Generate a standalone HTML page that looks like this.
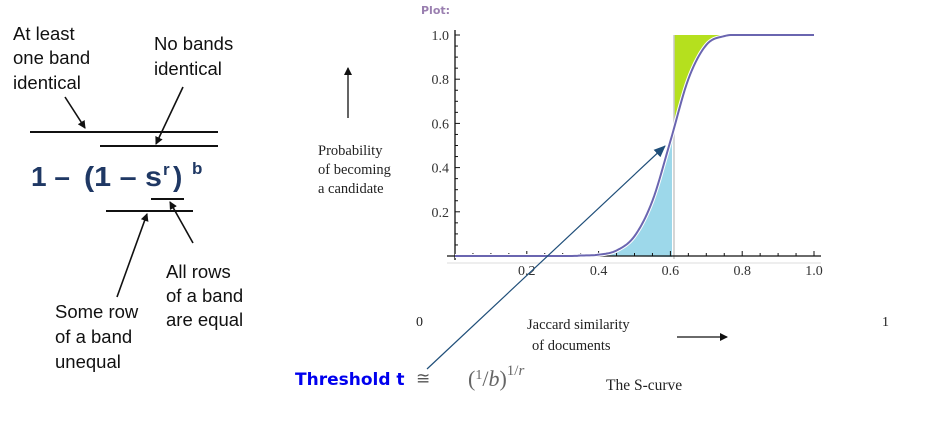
<!DOCTYPE html>
<html><head><meta charset="utf-8"><style>
html,body{margin:0;padding:0;background:#fff;}
svg{display:block;}
.cal{font-family:"Liberation Sans",sans-serif;font-size:18.5px;fill:#111;}
.ser{font-family:"Liberation Serif",serif;fill:#222;}
</style></head><body>
<svg width="945" height="433" viewBox="0 0 945 433">
<defs>
<marker id="ah" markerWidth="8" markerHeight="8" refX="7" refY="4" orient="auto" markerUnits="userSpaceOnUse"><path d="M0,0 L8,4 L0,8 z" fill="#111"/></marker>
<marker id="ahb" markerWidth="12" markerHeight="10" refX="11" refY="5" orient="auto" markerUnits="userSpaceOnUse"><path d="M0,0 L12,5 L0,10 z" fill="#1f4e79"/></marker>
</defs>
<g>
<text class="cal" x="13" y="40">At least</text>
<text class="cal" x="13" y="64">one band</text>
<text class="cal" x="13" y="89">identical</text>
<text class="cal" x="154" y="50">No bands</text>
<text class="cal" x="154" y="75">identical</text>
<line x1="30" y1="132" x2="218" y2="132" stroke="#111" stroke-width="2"/>
<line x1="100" y1="146" x2="218" y2="146" stroke="#111" stroke-width="2"/>
<g font-family="'Liberation Sans',sans-serif" font-weight="bold" fill="#1f3864">
<text x="31" y="186" font-size="28">1 –</text>
<text x="84" y="186" font-size="28" textLength="78" lengthAdjust="spacingAndGlyphs">(1 – s</text>
<text x="163" y="175" font-size="17">r</text>
<text x="173" y="186" font-size="28">)</text>
<text x="192" y="174" font-size="17">b</text>
</g>
<line x1="151" y1="199" x2="184" y2="199" stroke="#111" stroke-width="2"/>
<line x1="106" y1="211" x2="193" y2="211" stroke="#111" stroke-width="2"/>
<line x1="65" y1="97" x2="85" y2="128" stroke="#111" stroke-width="1.6" marker-end="url(#ah)"/>
<line x1="183" y1="87" x2="156" y2="144" stroke="#111" stroke-width="1.6" marker-end="url(#ah)"/>
<line x1="117" y1="297" x2="147" y2="214" stroke="#111" stroke-width="1.6" marker-end="url(#ah)"/>
<line x1="193" y1="243" x2="170" y2="202" stroke="#111" stroke-width="1.6" marker-end="url(#ah)"/>
<text class="cal" x="166" y="278">All rows</text>
<text class="cal" x="166" y="302">of a band</text>
<text class="cal" x="166" y="326">are equal</text>
<text class="cal" x="55" y="318">Some row</text>
<text class="cal" x="55" y="343">of a band</text>
<text class="cal" x="55" y="368">unequal</text>
</g>
<text x="421" y="14" font-family="'DejaVu Sans',sans-serif" font-size="11" fill="#9a7fb0" font-weight="bold">Plot:</text>
<g>
<text class="ser" font-size="14.5" x="318" y="155">Probability</text>
<text class="ser" font-size="14.5" x="318" y="174">of becoming</text>
<text class="ser" font-size="14.5" x="318" y="193">a candidate</text>
</g>
<line x1="348" y1="118" x2="348" y2="68" stroke="#111" stroke-width="1.3" marker-end="url(#ah)"/>
<text class="ser" x="416" y="326" font-size="14">0</text>
<text class="ser" x="882" y="326" font-size="14">1</text>
<text class="ser" x="527" y="329" font-size="14.5">Jaccard similarity</text>
<text class="ser" x="532" y="350" font-size="14.5">of documents</text>
<line x1="677" y1="337" x2="727" y2="337" stroke="#111" stroke-width="1.3" marker-end="url(#ah)"/>
<text x="295" y="385" font-family="'DejaVu Sans','Liberation Sans',sans-serif" font-weight="bold" font-size="17" fill="#0000ee">Threshold  t</text>
<text x="416" y="384" font-family="'DejaVu Sans',sans-serif" font-size="17" fill="#555">≅</text>
<text x="468" y="386" font-family="'Liberation Serif',serif" font-size="22" fill="#666">(<tspan font-size="14" dy="-7">1</tspan><tspan dy="7">/</tspan><tspan font-style="italic">b</tspan>)<tspan font-size="15" dy="-11">1/</tspan><tspan font-size="15" font-style="italic">r</tspan></text>
<text class="ser" x="606" y="390" font-size="15.5">The S-curve</text>
<g id="chart"></g>
<line x1="427" y1="369" x2="665" y2="146" stroke="#1f4e79" stroke-width="1.2" marker-end="url(#ahb)"/>
</svg>
<script>
const sVals=[0,0.3,0.35,0.4,0.45,0.5,0.55,0.6,0.65,0.7,0.75,0.8,0.9,1.0];
const pVals=[0,0,0.002,0.006,0.025,0.09,0.25,0.52,0.8,0.955,0.995,1,1,1];
const xTicks=[0.2,0.4,0.6,0.8,1.0];
const yTicks=[0.2,0.4,0.6,0.8,1.0];
const threshold=[0.61];
const NS='http://www.w3.org/2000/svg';
const X=v=>455+v*359, Y=v=>256-v*221;
const g=document.getElementById('chart');
function mk(t,a){const e=document.createElementNS(NS,t);for(const k in a)e.setAttribute(k,a[k]);g.appendChild(e);return e;}
function pts(){const out=[];for(let i=0;i<sVals.length-1;i++){const p0=i>0?i-1:i,p3=i+2<sVals.length?i+2:i+1;for(let t=0;t<1;t+=0.1){const t2=t*t,t3=t2*t;const f=(a,b,c,d)=>0.5*(2*b+(-a+c)*t+(2*a-5*b+4*c-d)*t2+(-a+3*b-3*c+d)*t3);out.push([f(sVals[p0],sVals[i],sVals[i+1],sVals[p3]),Math.min(1,Math.max(0,f(pVals[p0],pVals[i],pVals[i+1],pVals[p3])))]);}}out.push([sVals[sVals.length-1],pVals[pVals.length-1]]);return out;}
const P=pts();const th=threshold[0];
let blue=`M${X(0.42)},${Y(0)} `;P.filter(p=>p[0]>=0.42&&p[0]<=th).forEach(p=>blue+=`L${X(p[0])},${Y(p[1])} `);blue+=`L${X(th)-2},${Y(0.5)} L${X(th)-2},${Y(0)+1} Z`;
let e=mk('path',{d:blue,fill:'#9dd8ea'});


let green=`M${X(th)},${Y(1)} `;P.filter(p=>p[0]>=th&&p[0]<=0.76).forEach(p=>green+=`L${X(p[0])},${Y(p[1])} `);green+=`L${X(0.76)},${Y(1)} Z`;
e=mk('path',{d:green,fill:'#b5e01e'});


e=mk('line',{x1:X(th),y1:Y(1),x2:X(th),y2:Y(0)+3,stroke:'#c8c8c8','stroke-width':1.5});


e=mk('line',{x1:447,y1:256,x2:821,y2:256,stroke:'#111','stroke-width':1.3});


mk('line',{x1:447,y1:263,x2:821,y2:263,stroke:'#ddd','stroke-width':1});
e=mk('line',{x1:455,y1:30,x2:455,y2:260,stroke:'#111','stroke-width':1.3});


for(let i=1;i<=20;i++){const v=i*0.05,big=i%4===0;mk('line',{x1:X(v),y1:256,x2:X(v),y2:256-(big?5:3),stroke:'#111','stroke-width':1});}
for(let i=1;i<=20;i++){const v=i*0.05,big=i%4===0;mk('line',{x1:455,y1:Y(v),x2:455+(big?5:3),y2:Y(v),stroke:'#111','stroke-width':1});}
xTicks.forEach(v=>{const t=mk('text',{x:X(v),y:275,'text-anchor':'middle','font-family':'Liberation Serif,serif','font-size':14,fill:'#333'});t.textContent=v.toFixed(1);

});
yTicks.forEach(v=>{const t=mk('text',{x:449,y:Y(v)+5,'text-anchor':'end','font-family':'Liberation Serif,serif','font-size':14,fill:'#333'});t.textContent=v.toFixed(1);

});
let d='';P.forEach((p,i)=>d+=(i?'L':'M')+X(p[0])+','+Y(p[1])+' ');
mk('path',{d:d,fill:'none',stroke:'#fff','stroke-width':4});
e=mk('path',{d:d,fill:'none',stroke:'#6a65b0','stroke-width':2});


</script>
</body></html>
